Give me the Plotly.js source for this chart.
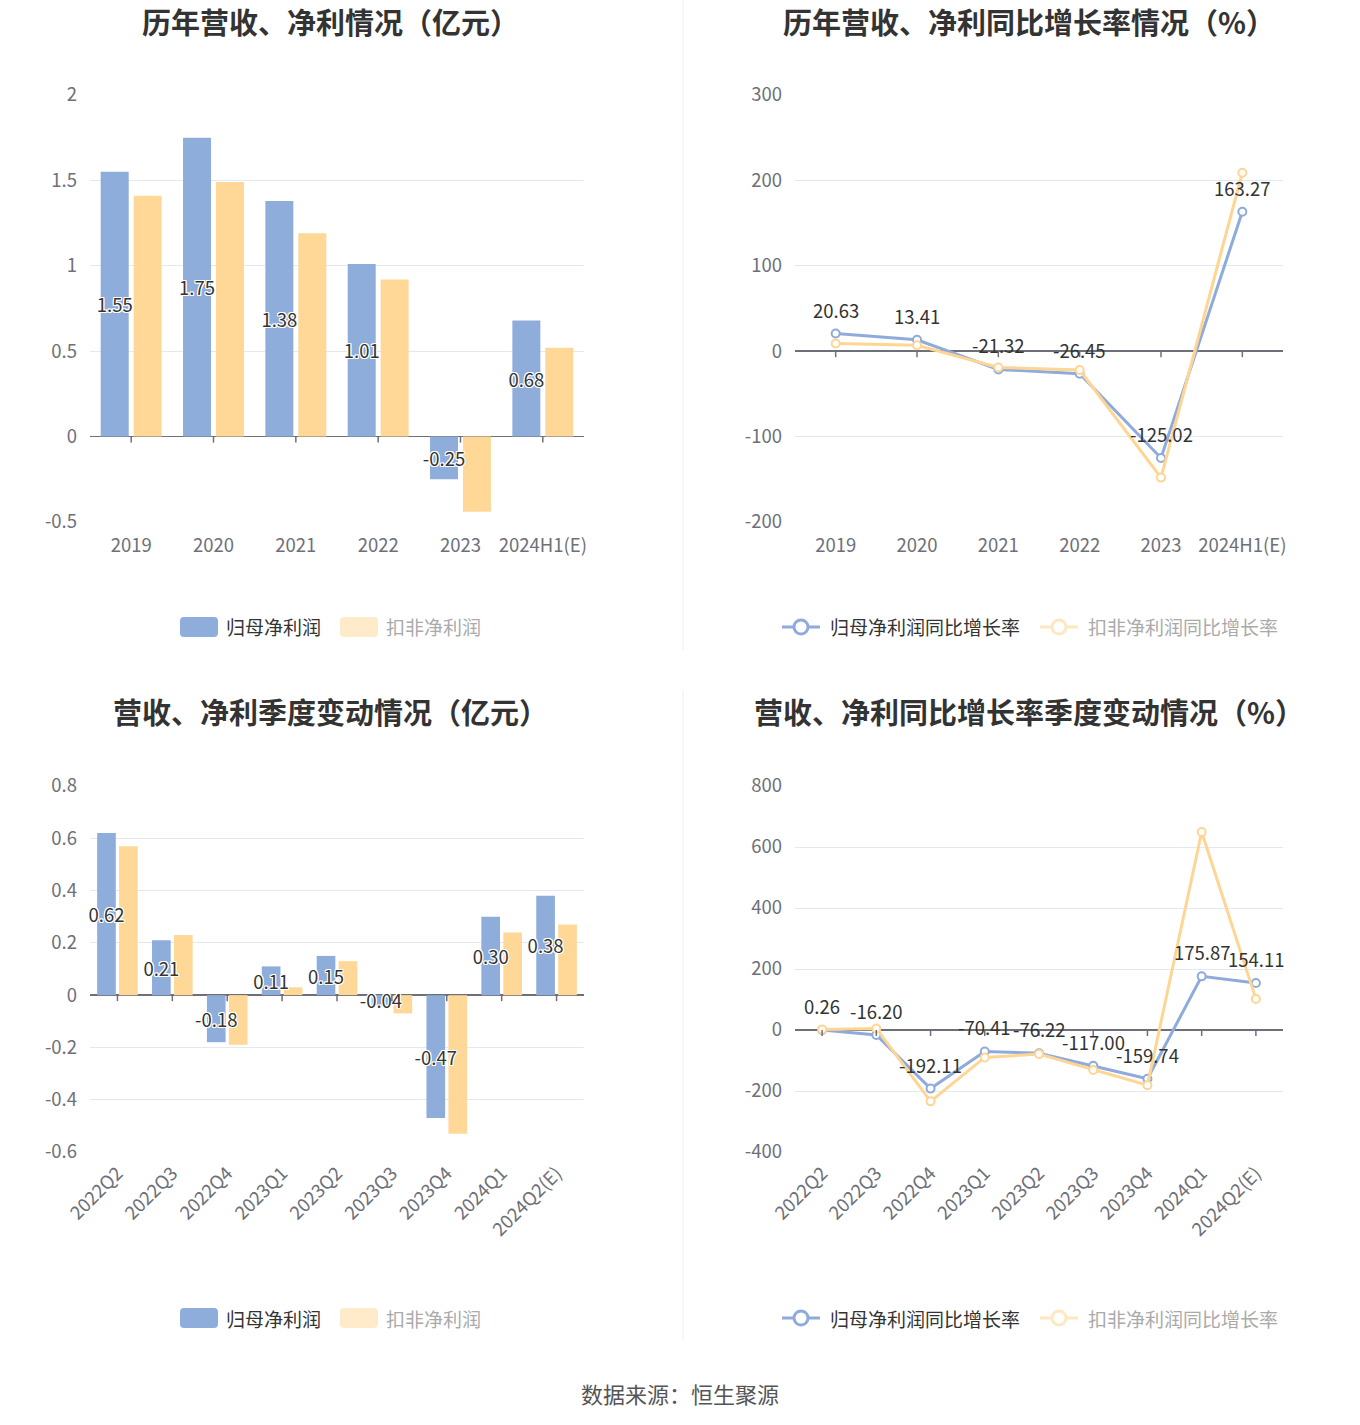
<!DOCTYPE html>
<html><head><meta charset="utf-8">
<script src="https://cdn.plot.ly/plotly-3.0.1.min.js"></script>
<style>body{margin:0;background:#fff}#chart{width:1360px;height:1425px}</style>
</head><body><div id="chart"></div>
<script>
// ---------- data ----------
const years = ['2019','2020','2021','2022','2023','2024H1(E)'];
const annualNetProfit = [1.55,1.75,1.38,1.01,-0.25,0.68];
const annualDeductedProfit = [1.41,1.49,1.19,0.92,-0.44,0.52];
const annualNetGrowth = [20.63,13.41,-21.32,-26.45,-125.02,163.27];
const annualDeductedGrowth = [9,7,-19,-22,-148,209];

const quarters = ['2022Q2','2022Q3','2022Q4','2023Q1','2023Q2','2023Q3','2023Q4','2024Q1','2024Q2(E)'];
const quarterNetProfit = [0.62,0.21,-0.18,0.11,0.15,-0.04,-0.47,0.30,0.38];
const quarterDeductedProfit = [0.57,0.23,-0.19,0.03,0.13,-0.07,-0.53,0.24,0.27];
const quarterNetGrowth = [0.26,-16.20,-192.11,-70.41,-76.22,-117.00,-159.74,175.87,154.11];
const quarterDeductedGrowth = [2,5,-234,-90,-79,-131,-181,649,102];

const ticks1 = [-0.5,0,0.5,1,1.5,2];
const ticks2 = [-200,-100,0,100,200,300];
const ticks3 = [-0.6,-0.4,-0.2,0,0.2,0.4,0.6,0.8];
const ticks4 = [-400,-200,0,200,400,600,800];

const titles = ['历年营收、净利情况（亿元）','历年营收、净利同比增长率情况（%）','营收、净利季度变动情况（亿元）','营收、净利同比增长率季度变动情况（%）'];
const barNames = ['归母净利润','扣非净利润'];
const lineNames = ['归母净利润同比增长率','扣非净利润同比增长率'];
const sourceText = '数据来源：恒生聚源';

// ---------- style ----------
const W=1360,H=1425;
const px=x=>x/W, py=y=>1-y/H;
const BLUE='#8eaddb', ORANGE='#ffd898', BLUE_L='#8eabdc', ORANGE_L='#ffd593';
const AX='#6e7079', GRID='#e3e8f2';
const FONT='"Noto Sans CJK SC","Noto Sans",sans-serif';
const shadow='1px 1px 0 #fff,-1px -1px 0 #fff,1px -1px 0 #fff,-1px 1px 0 #fff,0 1px 0 #fff,0 -1px 0 #fff,1px 0 0 #fff,-1px 0 0 #fff';
const BW=0.34;

const traces=[];
function bars(cats, a, b, xa, ya){
  traces.push({type:'bar',x:cats,y:b,xaxis:xa,yaxis:ya,marker:{color:ORANGE},width:BW,offset:0.03,hoverinfo:'skip'});
  traces.push({type:'bar',x:cats,y:a,xaxis:xa,yaxis:ya,marker:{color:BLUE},width:BW,offset:-0.37,
    text:a.map(v=>v.toFixed(2)),textposition:'inside',insidetextanchor:'middle',
    constraintext:'none',textangle:0,cliponaxis:false,
    insidetextfont:{size:18.5,color:'#333',family:FONT,shadow:shadow},hoverinfo:'skip'});
}
function lines(cats, a, b, xa, ya){
  traces.push({type:'scatter',mode:'lines+markers',x:cats,y:a,xaxis:xa,yaxis:ya,
    line:{color:BLUE_L,width:3},marker:{symbol:'circle',size:8,color:'#fff',line:{color:BLUE_L,width:2}},cliponaxis:false,hoverinfo:'skip'});
  traces.push({type:'scatter',mode:'lines+markers',x:cats,y:b,xaxis:xa,yaxis:ya,
    line:{color:ORANGE_L,width:3},marker:{symbol:'circle',size:8,color:'#fff',line:{color:ORANGE_L,width:2}},cliponaxis:false,hoverinfo:'skip'});
}
bars(years, annualNetProfit, annualDeductedProfit,'x','y');
lines(years, annualNetGrowth, annualDeductedGrowth,'x2','y2');
bars(quarters, quarterNetProfit, quarterDeductedProfit,'x3','y3');
lines(quarters, quarterNetGrowth, quarterDeductedGrowth,'x4','y4');

function xax(dom, anchor, angle, cats){
  return {domain:dom,anchor:anchor,type:'category',categoryorder:'array',categoryarray:cats,
    range:[-0.5,cats.length-0.5],autorange:false,showgrid:false,showline:false,zeroline:false,ticks:'',
    tickangle:angle,tickfont:{size:18.5,color:AX,family:FONT},ticklabelstandoff:angle?6:10,fixedrange:true};
}
function yax(dom, anchor, tv){
  return {domain:dom,anchor:anchor,range:[tv[0],tv[tv.length-1]],autorange:false,tickvals:tv,ticktext:tv.map(v=>String(v)),
    showgrid:true,gridcolor:GRID,gridwidth:1,zeroline:true,zerolinecolor:AX,zerolinewidth:1.5,
    showline:false,ticks:'',tickfont:{size:18.5,color:AX,family:FONT},ticklabelstandoff:12,fixedrange:true};
}
const XL=[px(90),px(584)], XR=[px(795),px(1283)];
const YT=[py(522),py(95)], YB=[py(1152),py(786)];

const shapes=[], annotations=[];
// axis ticks on zero line (category index positions)
function zeroTicks(cats, xr, yr){
  cats.forEach((c,i)=>shapes.push({type:'line',xref:xr,yref:yr,x0:i,x1:i,ysizemode:'pixel',yanchor:0,y0:0,y1:-6,line:{color:AX,width:1.5}}));
}
zeroTicks(years,'x','y'); zeroTicks(years,'x2','y2'); zeroTicks(quarters,'x3','y3'); zeroTicks(quarters,'x4','y4');

// line labels
function lineLabels(cats, vals, xr, yr){
  cats.forEach((c,i)=>annotations.push({xref:xr,yref:yr,x:i,y:vals[i],text:vals[i].toFixed(2),showarrow:false,yshift:24,
    font:{size:18.5,color:'#333',family:FONT}}));
}
lineLabels(years, annualNetGrowth,'x2','y2');
lineLabels(quarters, quarterNetGrowth,'x4','y4');

// titles
[[330,21],[1029,21],[330,711],[1029,711]].forEach((p,i)=>annotations.push({xref:'paper',yref:'paper',x:px(p[0]),y:py(p[1]),
  xanchor:'center',yanchor:'middle',showarrow:false,text:'<b>'+titles[i]+'</b>',font:{size:29,color:'#333',family:FONT}}));

// legends
function rrect(x0,y0,x1,y1,r,color){
  const X=v=>px(v),Y=v=>py(v);
  const p=`M${X(x0+r)},${Y(y0)} L${X(x1-r)},${Y(y0)} Q${X(x1)},${Y(y0)} ${X(x1)},${Y(y0+r)} L${X(x1)},${Y(y1-r)} Q${X(x1)},${Y(y1)} ${X(x1-r)},${Y(y1)} L${X(x0+r)},${Y(y1)} Q${X(x0)},${Y(y1)} ${X(x0)},${Y(y1-r)} L${X(x0)},${Y(y0+r)} Q${X(x0)},${Y(y0)} ${X(x0+r)},${Y(y0)} Z`;
  shapes.push({type:'path',xref:'paper',yref:'paper',path:p,fillcolor:color,line:{width:0}});
}
function legText(x,y,t,color){
  annotations.push({xref:'paper',yref:'paper',x:px(x),y:py(y),xanchor:'left',yanchor:'middle',showarrow:false,text:t,font:{size:19,color:color,family:FONT}});
}
function barLegend(y){
  rrect(180,y-10,218,y+10,4,BLUE); legText(224,y,barNames[0],'#333');
  rrect(340,y-10,378,y+10,4,'#ffebc9'); legText(384,y,barNames[1],'#aaa');
}
function lineLegend(y){
  const items=[[782,BLUE_L,lineNames[0],'#333'],[1040,'#ffe7c0',lineNames[1],'#aaa']];
  items.forEach(it=>{
    const x=it[0];
    shapes.push({type:'line',xref:'paper',yref:'paper',x0:px(x),x1:px(x+38),y0:py(y),y1:py(y),line:{color:it[1],width:3}});
    shapes.push({type:'circle',xref:'paper',yref:'paper',x0:px(x+19-7),x1:px(x+19+7),y0:py(y-7),y1:py(y+7),fillcolor:'#fff',line:{color:it[1],width:3}});
    legText(x+46,y,it[2],it[3]);
  });
}
barLegend(627); barLegend(1318); lineLegend(627); lineLegend(1318);

// dividers
shapes.push({type:'line',xref:'paper',yref:'paper',x0:px(683),x1:px(683),y0:py(0),y1:py(650),line:{color:'#eeeeee',width:1}});
shapes.push({type:'line',xref:'paper',yref:'paper',x0:px(683),x1:px(683),y0:py(690),y1:py(1340),line:{color:'#eeeeee',width:1}});

annotations.push({xref:'paper',yref:'paper',x:px(680),y:py(1393),xanchor:'center',yanchor:'middle',showarrow:false,text:sourceText,font:{size:22,color:'#555',family:FONT}});

const layout={width:W,height:H,margin:{l:0,r:0,t:0,b:0},paper_bgcolor:'#fff',plot_bgcolor:'#fff',
  showlegend:false,barmode:'overlay',font:{family:FONT},
  xaxis:xax(XL,'y',0,years), yaxis:yax(YT,'x',ticks1),
  xaxis2:xax(XR,'y2',0,years), yaxis2:yax(YT,'x2',ticks2),
  xaxis3:xax(XL,'y3',-45,quarters), yaxis3:yax(YB,'x3',ticks3),
  xaxis4:xax(XR,'y4',-45,quarters), yaxis4:yax(YB,'x4',ticks4),
  shapes:shapes, annotations:annotations};
Plotly.newPlot('chart',traces,layout,{staticPlot:true});
</script></body></html>
